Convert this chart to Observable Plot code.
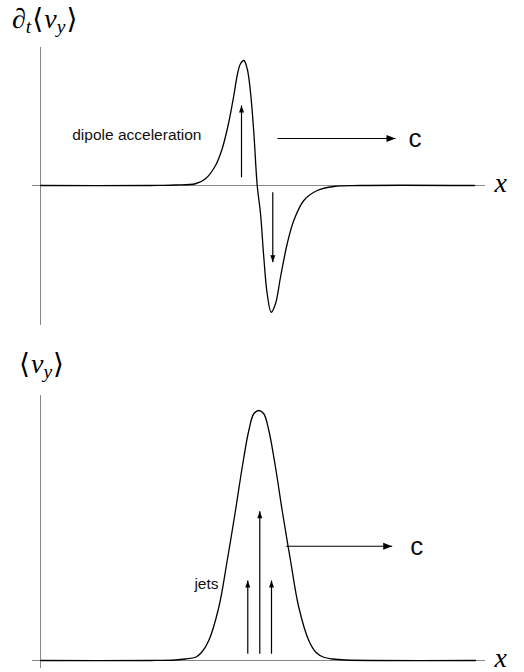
<!DOCTYPE html>
<html>
<head>
<meta charset="utf-8">
<script src="https://cdn.jsdelivr.net/npm/d3@7"></script>
<script src="https://cdn.jsdelivr.net/npm/@observablehq/plot@0.6"></script>
<style>
  body { margin: 0; background: #fff; }
  #wrap { position: relative; width: 524px; height: 672px; overflow: hidden; background: #fff; }
  .lab { position: absolute; font-family: "Liberation Serif", "Times New Roman", "DejaVu Serif", serif;
         font-size: 28px; line-height: 28px; color: #000; white-space: nowrap; }
  .sb { font-size: 0.7em; position: relative; top: 0.25em; }
  .br { margin: 0 1px; }
  .pn { position: absolute; left: 0; }
</style>
</head>
<body>
<div id="wrap">
  <div class="lab" style="left:12px;top:5px;"><i>∂</i><span class="sb"><i>t</i></span><span class="br">⟨</span><i>v</i><span class="sb"><i>y</i></span><span class="br">⟩</span></div>
  <div class="pn" id="p1" style="top:42px;"></div>
  <div class="lab" style="left:18px;top:350px;"><span class="br">⟨</span><i>v</i><span class="sb"><i>y</i></span><span class="br">⟩</span></div>
  <div class="pn" id="p2" style="top:390px;"></div>
</div>
<script>
// ---- Top panel: dipole acceleration  ∂t<vy>(x) ----
const topX = [0, 24.72, 27.0, 30.34, 34.83, 37.08, 39.33, 40.83, 42.31, 43.44, 44.2, 44.94, 45.69, 46.45, 47.19, 47.93, 48.7, 49.44, 50.18, 50.94, 51.84, 52.81, 53.93, 55.44, 56.92, 59.17, 62.18, 65.91, 71.91, 97.53];
const topY = [0, 0, 0.001, 0.004, 0.014, 0.054, 0.16, 0.294, 0.506, 0.72, 0.88, 0.974, 1.0, 0.934, 0.746, 0.426, 0, -0.224, -0.574, -0.866, -1.014, -0.946, -0.734, -0.466, -0.28, -0.12, -0.04, -0.008, 0, 0];

const topArrowX1 = [45.17, 52.2, 53.26];
const topArrowY1 = [0.066, -0.054, 0.376];
const topArrowX2 = [45.17, 52.2, 79.78];
const topArrowY2 = [0.64, -0.614, 0.376];

const topLabelText = ["dipole acceleration", "c"];
const topLabelX = [36.18, 82.7];
const topLabelY = [0.4, 0.376];

// ---- Bottom panel: jets  <vy>(x) ----
const botX = [0, 24.72, 30.34, 32.58, 34.83, 36.18, 37.82, 40.07, 41.96, 43.82, 45.33, 46.81, 47.93, 49.06, 50.18, 51.31, 52.81, 54.31, 56.18, 58.04, 60.29, 61.93, 63.66, 65.6, 68.54, 97.75];
const botY = [0, 0, 0.002, 0.006, 0.013, 0.032, 0.08, 0.213, 0.4, 0.6, 0.773, 0.92, 0.987, 1.0, 0.987, 0.92, 0.773, 0.6, 0.4, 0.213, 0.08, 0.032, 0.013, 0.006, 0.002, 0];

const botArrowX1 = [46.58, 49.28, 51.91, 55.21];
const botArrowY1 = [0.027, 0.027, 0.027, 0.457];
const botArrowX2 = [46.58, 49.28, 51.91, 79.03];
const botArrowY2 = [0.32, 0.597, 0.32, 0.457];

const botLabelText = ["jets", "c"];
const botLabelX = [40.0, 83.1];
const botLabelY = [0.307, 0.457];

const xDomain = [0, 100];
const topYDomain = [-1.12, 1.104];
const botYDomain = [-0.032, 1.06];

function zipCurve(xs, ys) { return xs.map((x, i) => ({x, y: ys[i]})); }
function zipArrows(x1, y1, x2, y2) {
  return x1.map((_, i) => ({
    x1: x1[i], y1: y1[i], x2: x2[i], y2: y2[i],
    rot: x1[i] === x2[i] ? (y2[i] > y1[i] ? 0 : 180) : 90
  }));
}
function zipLabels(t, xs, ys) { return t.map((s, i) => ({text: s, x: xs[i], y: ys[i]})); }

function panel({curve, arrows, labels, yDomain, height, marginTop, marginBottom}) {
  return Plot.plot({
    width: 524,
    height,
    marginLeft: 40,
    marginRight: 39,
    marginTop,
    marginBottom,
    x: {domain: xDomain, axis: null},
    y: {domain: yDomain, axis: null},
    style: {fontFamily: "'Liberation Sans', Arial, Helvetica, sans-serif", background: "transparent", overflow: "visible"},
    marks: [
      Plot.ruleX([0], {stroke: "#888", strokeWidth: 1}),
      Plot.ruleY([0], {stroke: "#888", strokeWidth: 1, insetLeft: -8}),
      Plot.line(curve, {x: "x", y: "y", curve: "catmull-rom", stroke: "#000", strokeWidth: 1.3}),
      Plot.link(arrows, {x1: "x1", y1: "y1", x2: "x2", y2: "y2", stroke: "#000", strokeWidth: 1.2}),
      Plot.vector(arrows, {filter: d => d.x1 === d.x2, x: "x2", y: "y2", rotate: "rot", length: 7, r: 2.5,
                           shape: "spike", anchor: "end", fill: "#000", stroke: "none"}),
      Plot.vector(arrows, {filter: d => d.x1 !== d.x2, x: "x2", y: "y2", rotate: "rot", length: 9, r: 3.5,
                           shape: "spike", anchor: "end", fill: "#000", stroke: "none"}),
      Plot.text(labels, {filter: d => d.text !== "c", x: "x", y: "y", text: "text", textAnchor: "end",
                         lineAnchor: "middle", fontSize: 15.5, fill: "#111"}),
      Plot.text(labels, {filter: d => d.text === "c", x: "x", y: "y", text: "text", textAnchor: "start",
                         lineAnchor: "middle", fontSize: 26, fill: "#111"}),
      Plot.text(["x"], {x: xDomain[1], y: 0, text: d => d, textAnchor: "start", lineAnchor: "middle",
                        dx: 9, dy: -2, fontSize: 28, fontStyle: "italic",
                        fontFamily: "'Liberation Serif', 'Times New Roman', serif"})
    ]
  });
}

document.getElementById("p1").appendChild(panel({
  curve: zipCurve(topX, topY),
  arrows: zipArrows(topArrowX1, topArrowY1, topArrowX2, topArrowY2),
  labels: zipLabels(topLabelText, topLabelX, topLabelY),
  yDomain: topYDomain, height: 300, marginTop: 5, marginBottom: 17
}));
document.getElementById("p2").appendChild(panel({
  curve: zipCurve(botX, botY),
  arrows: zipArrows(botArrowX1, botArrowY1, botArrowX2, botArrowY2),
  labels: zipLabels(botLabelText, botLabelX, botLabelY),
  yDomain: botYDomain, height: 282, marginTop: 5, marginBottom: 4
}));
</script>
</body>
</html>
